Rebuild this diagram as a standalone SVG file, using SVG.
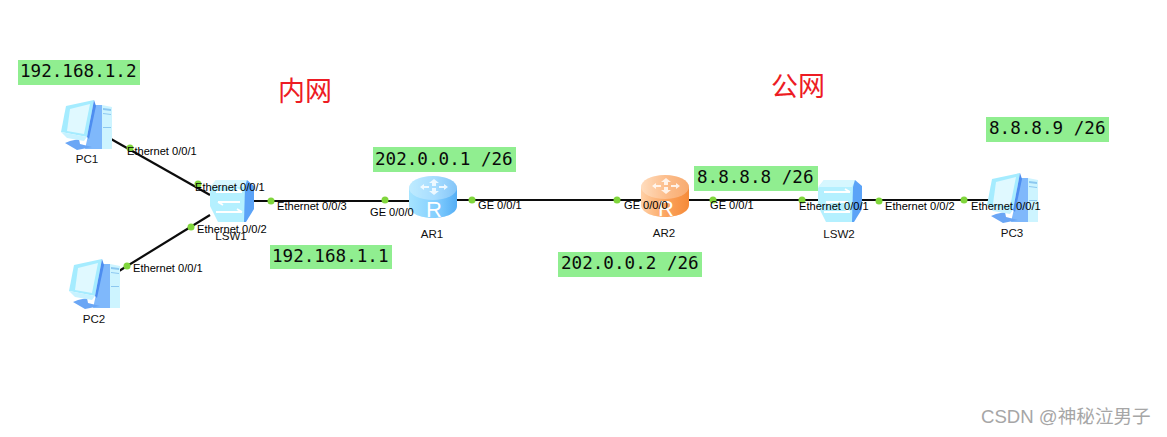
<svg xmlns="http://www.w3.org/2000/svg" width="1167" height="437" viewBox="0 0 1167 437">
<style>
.lnk{stroke:#0c0c0c;stroke-width:2.2;fill:none}
.dot{fill:#80d63c}
.lb{font-family:"Liberation Sans",Arial,sans-serif;font-size:11.1px;fill:#000}
.nm{font-family:"Liberation Sans",Arial,sans-serif;font-size:11.6px;fill:#111;text-anchor:middle}
.ip{font-family:"DejaVu Sans Mono","Liberation Mono",monospace;font-size:17.6px;fill:#0a0a0a}
.ipb{fill:#90ee90}
.zone{font-family:"Noto Sans CJK SC",sans-serif;font-size:27px;fill:#ed1c24}
</style>
<defs>
<linearGradient id="rb" x1="0" x2="1" y1="0" y2="0"><stop offset="0" stop-color="#a6e4ff"/><stop offset=".55" stop-color="#84cfff"/><stop offset="1" stop-color="#55aef5"/></linearGradient>
<linearGradient id="ro" x1="0" x2="1" y1="0" y2="0"><stop offset="0" stop-color="#ffd0a6"/><stop offset=".55" stop-color="#fba25c"/><stop offset="1" stop-color="#f58a38"/></linearGradient>
<g id="pc">
<path d="M95 105L102 105V149H85Z" fill="#7fb8fb"/>
<path d="M102 105L112 107V149H102Z" fill="#cdf4ff"/>
<path d="M103 108L111 109V111L103 110ZM103 113L111 114V115L103 114ZM103 127H111V128H103Z" fill="#8cc8f0"/>
<path d="M61 132L66 106L94 100L87 137Z" fill="#a5ecff"/>
<path d="M67 131L70 109L90 104L84 134Z" fill="#e0f9ff"/>
<path d="M94 100L96 106L89 139L87 137Z" fill="#4d8df0"/>
<path d="M70 141L79 139L80 144L92 147L77 150L65 143Z" fill="#6aa6f5"/>
<path d="M61 132L87 137L84 141L67 138Z" fill="#c7f2ff"/>
</g>
<g id="sw">
<path d="M210 188L216 180H247L245 222H218L210 206Z" fill="#b4f0ff"/>
<path d="M216 180H247L244 187H210Z" fill="#d6f7ff"/>
<path d="M245 187L247 180L254 186V209L246 222H244Z" fill="#5ba3f7"/>
<path d="M216 192H242M242 192l-5-3M218 202H240M218 202l5 3M216 212H242M242 212l-5-3" stroke="#fff" stroke-width="1.8" fill="none"/>
</g>
<g id="rt">
<path d="M0 12V30C0 37 11 42 24 42S48 37 48 30V12Z"/>
<ellipse cx="24" cy="12" rx="24" ry="12"/>
<ellipse cx="24" cy="12" rx="24" ry="12" opacity=".28" fill="#fff"/>
<path d="M20 7l5-4 5 4h-3v3h-4V7ZM11 11l4-3v2h5v2h-5v2ZM39 11l-4-3v2h-5v2h5v2ZM20 15l5 4 5-4h-3v-3h-4v3Z" fill="#fff" opacity=".8"/>
<text x="25" y="41" font-family="'Liberation Sans',Arial,sans-serif" font-size="22" fill="#fff" text-anchor="middle">R</text>
</g>
</defs>
<rect width="1167" height="437" fill="#fff"/>
<g id="connectors">
<path class="lnk" d="M111 139L210 195"/>
<path class="lnk" d="M119 271L210 215"/>
<path class="lnk" d="M254 201H410"/>
<path class="lnk" d="M457 200H641"/>
<path class="lnk" d="M689 200H820"/>
<path class="lnk" d="M860 200H990"/>
</g>
<g id="PC1"><use href="#pc"/><text class="nm" x="87" y="163">PC1</text></g>
<g id="PC2"><use href="#pc" x="8" y="159"/><text class="nm" x="94" y="323">PC2</text></g>
<g id="PC3"><use href="#pc" x="926" y="73"/><text class="nm" x="1012" y="237">PC3</text></g>
<g id="LSW1"><use href="#sw"/><text class="nm" x="231" y="240">LSW1</text></g>
<g id="LSW2"><use href="#sw" x="608"/><text class="nm" x="839" y="238">LSW2</text></g>
<g id="AR1"><use href="#rt" x="409" y="176" fill="url(#rb)"/><text class="nm" x="432" y="238">AR1</text></g>
<g id="AR2"><use href="#rt" x="641" y="175" fill="url(#ro)"/><text class="nm" x="664" y="237">AR2</text></g>
<g id="ports">
<circle class="dot" cx="130" cy="148" r="3.5"/><circle class="dot" cx="198" cy="184" r="3.5"/><circle class="dot" cx="191" cy="227" r="3.5"/><circle class="dot" cx="127" cy="266" r="3.5"/><circle class="dot" cx="271" cy="201" r="3.5"/><circle class="dot" cx="385" cy="200" r="3.5"/><circle class="dot" cx="472" cy="200" r="3.5"/><circle class="dot" cx="617" cy="200" r="3.5"/><circle class="dot" cx="713" cy="200" r="3.5"/><circle class="dot" cx="802" cy="200" r="3.5"/><circle class="dot" cx="879" cy="201" r="3.5"/><circle class="dot" cx="964" cy="200" r="3.5"/>
<text class="lb" x="127" y="155">Ethernet 0/0/1</text>
<text class="lb" x="195" y="191">Ethernet 0/0/1</text>
<text class="lb" x="197" y="233">Ethernet 0/0/2</text>
<text class="lb" x="133" y="272">Ethernet 0/0/1</text>
<text class="lb" x="277" y="210">Ethernet 0/0/3</text>
<text class="lb" x="370" y="216">GE 0/0/0</text>
<text class="lb" x="478" y="209">GE 0/0/1</text>
<text class="lb" x="624" y="209">GE 0/0/0</text>
<text class="lb" x="710" y="209">GE 0/0/1</text>
<text class="lb" x="799" y="210">Ethernet 0/0/1</text>
<text class="lb" x="885" y="210">Ethernet 0/0/2</text>
<text class="lb" x="971" y="210">Ethernet 0/0/1</text>
</g>
<g id="ip-labels">
<rect class="ipb" x="18" y="60" width="122" height="25"/><text class="ip" x="20" y="77">192.168.1.2</text>
<rect class="ipb" x="373" y="147" width="143" height="25"/><text class="ip" x="375" y="165">202.0.0.1 /26</text>
<rect class="ipb" x="270" y="245" width="122" height="24"/><text class="ip" x="272" y="262">192.168.1.1</text>
<rect class="ipb" x="558" y="252" width="144" height="25"/><text class="ip" x="561" y="269">202.0.0.2 /26</text>
<rect class="ipb" x="694" y="166" width="124" height="25"/><text class="ip" x="697" y="183">8.8.8.8 /26</text>
<rect class="ipb" x="986" y="117" width="123" height="25"/><text class="ip" x="989" y="134">8.8.8.9 /26</text>
</g>
<text class="zone" x="278" y="101">内网</text>
<text class="zone" x="771" y="96">公网</text>
<text x="981" y="423" font-family="'Liberation Sans','Noto Sans CJK SC',sans-serif" font-size="18.6" fill="#a6a6a6">CSDN @神秘泣男子</text>
</svg>
